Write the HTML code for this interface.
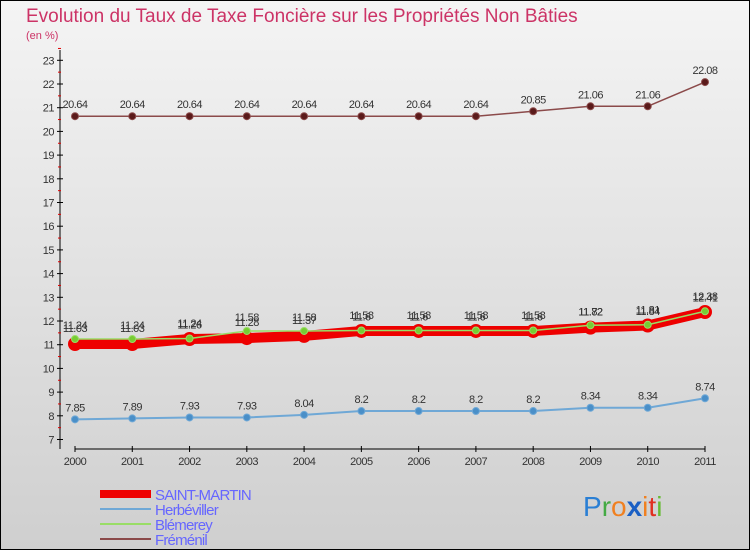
<!DOCTYPE html>
<html><head><meta charset="utf-8"><style>
body{margin:0;width:750px;height:550px;overflow:hidden;font-family:"Liberation Sans",sans-serif}
</style></head><body>
<svg width="750" height="550" xmlns="http://www.w3.org/2000/svg">
<defs><linearGradient id="bg" x1="0" y1="0" x2="0" y2="1"><stop offset="0" stop-color="#f4f4f4"/><stop offset="1" stop-color="#cfcfcf"/></linearGradient></defs>
<rect x="0.5" y="0.5" width="749" height="549" fill="url(#bg)" stroke="#000"/>
<text x="26" y="22" font-size="19" fill="#cc3366">Evolution du Taux de Taxe Foncière sur les Propriétés Non Bâties</text>
<text x="26" y="39" font-size="11" fill="#cc3366">(en %)</text>
<g id="axes"></g><g id="series"></g><g id="legend"></g>
<g font-size="28">
<text x="583" y="516" fill="#2a7fd4">P<tspan fill="#44aa44">r</tspan><tspan fill="#f08020">o</tspan><tspan fill="#1a5fc4" font-weight="bold">x</tspan><tspan fill="#f08020">i</tspan><tspan fill="#e03020">t</tspan><tspan fill="#66bb33">i</tspan></text>
</g>
</svg>
<script>
const years=[2000,2001,2002,2003,2004,2005,2006,2007,2008,2009,2010,2011];
const yTicks=[7,8,9,10,11,12,13,14,15,16,17,18,19,20,21,22,23];
const saintMartin=[11.03,11.03,11.24,11.28,11.37,11.58,11.58,11.58,11.58,11.72,11.81,12.38];
const herbeviller=[7.85,7.89,7.93,7.93,8.04,8.2,8.2,8.2,8.2,8.34,8.34,8.74];
const blemerey=[11.24,11.24,11.26,11.58,11.58,11.6,11.6,11.6,11.6,11.82,11.84,12.41];
const fremenil=[20.64,20.64,20.64,20.64,20.64,20.64,20.64,20.64,20.85,21.06,21.06,22.08];
const NS="http://www.w3.org/2000/svg";
const X=i=>75+i*(630/11);
const Y=v=>439.5-(v-7)*23.7;
function mk(tag,attrs,parent,txt){const e=document.createElementNS(NS,tag);for(const k in attrs)e.setAttribute(k,attrs[k]);if(txt!==undefined)e.textContent=txt;parent.appendChild(e);return e;}
const ax=document.getElementById('axes');
let l=mk('line',{x1:60,y1:50,x2:60,y2:449,stroke:'#000'},ax);


l=mk('line',{x1:75,y1:449,x2:705,y2:449,stroke:'#000'},ax);


yTicks.forEach(v=>{
 mk('line',{x1:57,x2:63,y1:Y(v),y2:Y(v),stroke:'#000'},ax);
 mk('line',{x1:58,x2:61,y1:Y(v+0.5),y2:Y(v+0.5),stroke:'#d00'},ax);
 const t=mk('text',{x:54,y:Y(v)+4,'font-size':11,'text-anchor':'end',fill:'#333','letter-spacing':'-0.5'},ax,String(v));
 
 
});
years.forEach((y,i)=>{
 mk('line',{x1:X(i),x2:X(i),y1:446,y2:452,stroke:'#000'},ax);
 const t=mk('text',{x:X(i),y:465,'font-size':11,'text-anchor':'middle',fill:'#333','letter-spacing':'-0.5'},ax,String(y));
 
 
});
const sg=document.getElementById('series');
function series(vals,name,color,w,r,fill,dy){
 const g=mk('g',{},sg);
 
 
 mk('polyline',{points:vals.map((v,i)=>X(i)+','+Y(v)).join(' '),fill:'none',stroke:color,'stroke-width':w,'stroke-linejoin':'round'},g);
 vals.forEach((v,i)=>{
  const c=mk('circle',{cx:X(i),cy:Y(v),r:r,fill:fill,stroke:color,'stroke-width':1},g);
  
  
  const t=mk('text',{x:X(i),y:Y(v)-dy,'font-size':11,'text-anchor':'middle',fill:'#333','letter-spacing':'-0.5'},g,String(v));
  
  
 });
}
series(herbeviller,'herbeviller','#6fa8d6',2,3.5,'#4a8fc8',8);
series(fremenil,'fremenil','#8b4a4a',1.5,3.5,'#5a1a1a',8);
series(saintMartin,'saint-martin','#ee0000',10,6.5,'#ee0000',12);
series(blemerey,'blemerey','#99dd66',1.5,3.5,'#77cc33',10);
const lg=document.getElementById('legend');
const items=[['SAINT-MARTIN','#ee0000',8],['Herbéviller','#6fa8d6',2],['Blémerey','#99dd66',2],['Fréménil','#8b4a4a',2]];
items.forEach((it,i)=>{
 const y=494+i*15;
 const g=mk('g',{},lg);
 
 
 mk('line',{x1:100,x2:151,y1:y,y2:y,stroke:it[1],'stroke-width':it[2]},g);
 mk('text',{x:155,y:y+6,'font-size':15,fill:'#6666ff','letter-spacing':'-0.8'},g,it[0]);
});
</script>
</body></html>
